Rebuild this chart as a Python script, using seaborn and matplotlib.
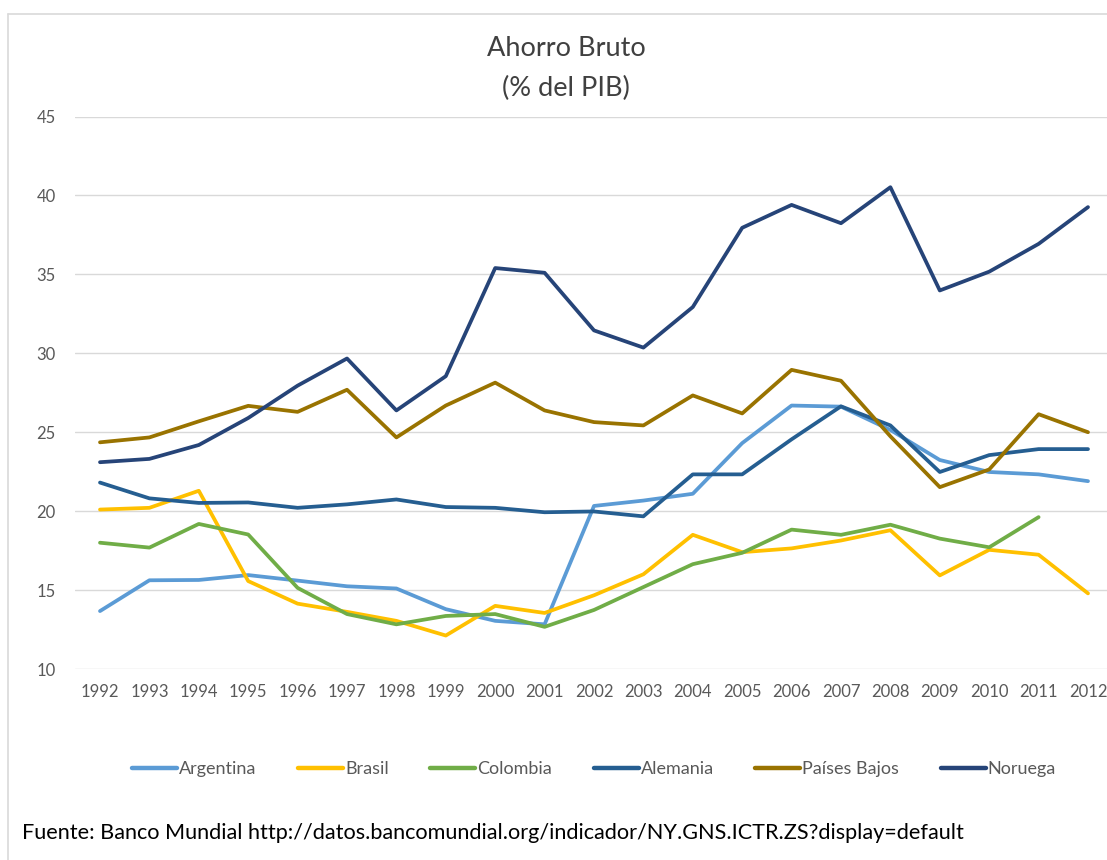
import pandas as pd
import numpy as np
import seaborn as sns
import matplotlib.pyplot as plt
from matplotlib.lines import Line2D

# Data (Ahorro bruto, % del PIB)
years = list(range(1992, 2013))
argentina = [13.67, 15.62, 15.64, 15.95, 15.60, 15.24, 15.10, 13.79, 13.05, 12.83,
             20.33, 20.67, 21.10, 24.31, 26.69, 26.62, 25.14, 23.24, 22.48, 22.33, 21.90]
brasil = [20.10, 20.21, 21.29, 15.57, 14.14, 13.62, 13.05, 12.12, 14.00, 13.55,
          14.67, 16.00, 18.50, 17.40, 17.64, 18.14, 18.79, 15.93, 17.55, 17.24, 14.79]
colombia = [18.00, 17.69, 19.19, 18.52, 15.14, 13.48, 12.83, 13.36, 13.48, 12.67,
            13.74, 15.19, 16.64, 17.36, 18.83, 18.50, 19.14, 18.26, 17.71, 19.62, np.nan]
alemania = [21.81, 20.81, 20.52, 20.55, 20.21, 20.43, 20.74, 20.26, 20.21, 19.93,
            19.98, 19.67, 22.33, 22.33, 24.55, 26.64, 25.43, 22.48, 23.55, 23.93, 23.93]
paises_bajos = [24.36, 24.67, 25.69, 26.67, 26.29, 27.69, 24.67, 26.69, 28.14, 26.38,
                25.64, 25.43, 27.33, 26.19, 28.95, 28.26, 24.74, 21.52, 22.64, 26.14, 25.00]
noruega = [23.10, 23.31, 24.19, 25.90, 27.95, 29.67, 26.38, 28.55, 35.40, 35.10,
           31.45, 30.36, 32.93, 37.95, 39.40, 38.24, 40.52, 33.98, 35.17, 36.93, 39.26]

countries = ["Argentina", "Brasil", "Colombia", "Alemania", "Países Bajos", "Noruega"]
colors = ["#5B9BD5", "#FFC000", "#70AD47", "#255E91", "#997300", "#264478"]

series = [argentina, brasil, colombia, alemania, paises_bajos, noruega]
df = pd.concat(
    [pd.DataFrame({"Año": years, "Valor": vals, "País": name}) for name, vals in zip(countries, series)],
    ignore_index=True,
)

sns.set_style("white")
plt.rcParams["font.family"] = ["Lato", "DejaVu Sans"]

W, H = 1107, 860
fig = plt.figure(figsize=(W / 100, H / 100), dpi=100)
ax = fig.add_axes([75.3 / W, 1 - 669 / H, (1112.7 - 75.3) / W, (669 - 116.5) / H])

sns.lineplot(data=df, x="Año", y="Valor", hue="País", hue_order=countries,
             palette=colors, linewidth=2.7, ax=ax, legend=False)

ax.set_xlim(1991.5, 2012.5)
ax.set_ylim(10, 45)
ax.set_xticks(years)
ax.set_yticks(range(10, 46, 5))
ax.grid(axis="y", color="#D9D9D9", linewidth=1)
ax.set_axisbelow(True)
for s in ax.spines.values():
    s.set_visible(False)
ax.tick_params(axis="both", length=0, labelsize=12, labelcolor="#595959")
ax.tick_params(axis="y", pad=14)
ax.tick_params(axis="x", pad=11)
ax.set_xlabel("")
ax.set_ylabel("")

# legend
handles = [Line2D([0], [0], color=c, linewidth=3.2) for c in colors]
leg = fig.legend(handles, countries, loc="center", bbox_to_anchor=(594 / W, 1 - 769 / H),
                 ncol=6, frameon=False, handlelength=2.5, handletextpad=0.1,
                 columnspacing=2.3, fontsize=13)
for t in leg.get_texts():
    t.set_color("#595959")

# title
fig.text(566 / W, 1 - 48 / H, "Ahorro Bruto", ha="center", va="center",
         fontsize=19.5, color="#404040")
fig.text(566 / W, 1 - 88 / H, "(% del PIB)", ha="center", va="center",
         fontsize=19.5, color="#404040")

# source
fig.text(22 / W, 1 - 833 / H,
         "Fuente: Banco Mundial http://datos.bancomundial.org/indicador/NY.GNS.ICTR.ZS?display=default",
         ha="left", va="center", fontsize=15.6, color="black")

# chart frame (left and top edges visible)
fig.add_artist(Line2D([8 / W, 8 / W], [0, 1 - 14 / H], color="#D9D9D9", linewidth=1.2,
                      transform=fig.transFigure))
fig.add_artist(Line2D([8 / W, 1], [1 - 14 / H, 1 - 14 / H], color="#D9D9D9", linewidth=1.2,
                      transform=fig.transFigure))

fig.savefig("out.png", dpi=100)
